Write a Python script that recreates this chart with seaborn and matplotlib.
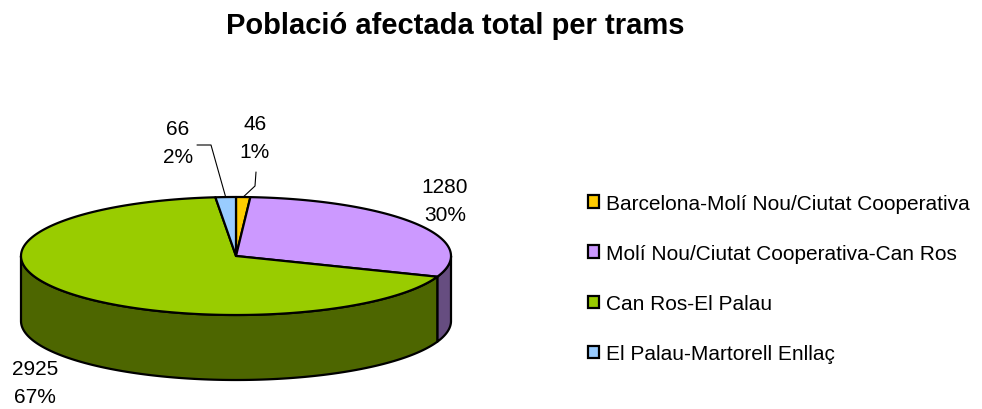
import numpy as np
import matplotlib
matplotlib.use('Agg')
import matplotlib.pyplot as plt
import matplotlib.patches as mpatches
import seaborn as sns

trams = ['Barcelona-Molí Nou/Ciutat Cooperativa',
         'Molí Nou/Ciutat Cooperativa-Can Ros',
         'Can Ros-El Palau',
         'El Palau-Martorell Enllaç']
poblacio = [46, 1280, 2925, 66]
percent_labels = ['1%', '30%', '67%', '2%']

colors_top = ['#FFCC00', '#CC99FF', '#99CC00', '#99CCFF']


def darker(c, f=0.5):
    r, g, b = matplotlib.colors.to_rgb(c)
    return (r * f, g * f, b * f)


# geometria del pastis (pixels)
CX, CY = 236, 257
A, B = 215, 59
DEPTH = 65


def arc(t1, t2, dy=0, n=200):
    t = np.radians(np.linspace(t1, t2, n))
    return np.column_stack([CX + A * np.cos(t), CY - B * np.sin(t) + dy])


def main():
    sns.set_style('white')
    plt.rcParams['font.family'] = ['Liberation Sans', 'DejaVu Sans']
    plt.rcParams['text.color'] = 'black'

    fig = plt.figure(figsize=(9.82, 4.10), dpi=100)
    ax = fig.add_axes([0, 0, 1, 1])
    ax.set_xlim(0, 982)
    ax.set_ylim(410, 0)
    ax.axis('off')

    vals = np.array(poblacio, dtype=float)
    frac = vals / vals.sum()
    cum = np.concatenate([[0], np.cumsum(frac)])
    # angles: comencem a dalt (90) i anem en sentit horari
    starts = 90 - cum[:-1] * 360
    ends = 90 - cum[1:] * 360

    # laterals (part frontal, sin < 0)
    for i in range(len(vals)):
        lo, hi = ends[i], starts[i]
        for k in (-1, 0, 1):
            a0 = max(lo, 180 + 360 * k)
            a1 = min(hi, 360 + 360 * k)
            if a1 > a0:
                top = arc(a0, a1)
                bot = arc(a1, a0, dy=DEPTH)
                poly = np.vstack([top, bot])
                ax.add_patch(mpatches.Polygon(poly, closed=True,
                                              facecolor=darker(colors_top[i]),
                                              edgecolor='black', lw=1.6,
                                              joinstyle='round'))

    # cara superior
    for i in range(len(vals)):
        pts = np.vstack([[CX, CY], arc(starts[i], ends[i])])
        ax.add_patch(mpatches.Polygon(pts, closed=True,
                                      facecolor=colors_top[i],
                                      edgecolor='black', lw=1.6,
                                      joinstyle='round'))

    # etiquetes de dades
    label_pos = [(255, 139), (445, 202), (35, 384), (178, 144)]
    for i, (x, y) in enumerate(label_pos):
        ax.text(x, y, f'{poblacio[i]}\n{percent_labels[i]}', ha='center',
                va='center', fontsize=15, linespacing=1.6)

    # linies guia per als trams petits
    mid = (starts + ends) / 2
    for i, elbow in [(0, [(256, 173), (255, 187)]),
                     (3, [(197, 146), (211, 146)])]:
        t = np.radians(mid[i])
        end = (CX + A * np.cos(t), CY - B * np.sin(t))
        xs = [p[0] for p in elbow] + [end[0]]
        ys = [p[1] for p in elbow] + [end[1]]
        ax.plot(xs, ys, color='black', lw=0.8)

    ax.text(455, 26, 'Població afectada total per trams', ha='center',
            va='center', fontsize=21, fontweight='bold')

    handles = [mpatches.Patch(facecolor=c, edgecolor='black', lw=1.6)
               for c in colors_top]
    ax.legend(handles, trams, loc='center left', bbox_to_anchor=(0.59, 0.318),
              frameon=False, fontsize=15, handlelength=0.55, handleheight=0.55,
              handletextpad=0.35, labelspacing=1.5, borderaxespad=0,
              labelcolor='black')

    fig.savefig('out.png', dpi=100)


if __name__ == '__main__':
    main()
